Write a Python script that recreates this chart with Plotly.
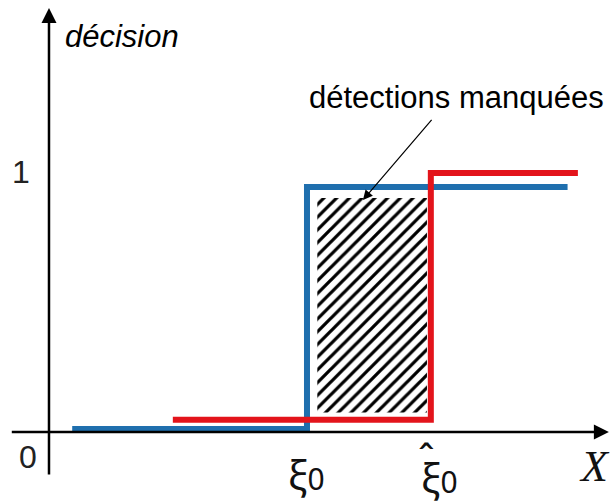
import plotly.graph_objects as go

# decision curves (x in arbitrary units, y = decision value)
xi0 = 10.0
xi0_hat = 14.8

blue_x = [0.9, xi0, 20.1]
blue_y = [0.012, 1.0, 1.0]

red_x = [4.8, xi0_hat, 20.5]
red_y = [0.05, 1.057, 1.057]

# missed detections region
miss_x = [10.4, 14.65, 14.65, 10.4, 10.4]
miss_y = [0.08, 0.08, 0.955, 0.955, 0.08]

# axes extent
x_axis = [-1.5, 21.7]
y_axis = [-0.18, 1.73]

BLUE = "#1f6fae"
RED = "#e3141b"
SANS = "Liberation Sans, Arial, sans-serif"
MATH = "Noto Sans, DejaVu Sans, sans-serif"

fig = go.Figure()

fig.add_trace(go.Scatter(x=miss_x, y=miss_y, mode="lines", fill="toself",
                         line=dict(width=0, color="black"),
                         fillcolor="black",
                         fillpattern=dict(shape="/", size=9, solidity=0.36,
                                          fgcolor="black", bgcolor="white",
                                          fgopacity=1)))
fig.add_trace(go.Scatter(x=blue_x, y=blue_y, mode="lines", line_shape="hv",
                         line=dict(color=BLUE, width=6)))
fig.add_trace(go.Scatter(x=red_x, y=red_y, mode="lines", line_shape="hv",
                         line=dict(color=RED, width=6)))

# axes with arrows
fig.add_annotation(x=x_axis[1], y=0, ax=x_axis[0], ay=0, xref="x", yref="y",
                   axref="x", ayref="y", text="", showarrow=True,
                   arrowhead=2, arrowsize=1.2, arrowwidth=2.5, arrowcolor="black")
fig.add_annotation(x=0, y=y_axis[1], ax=0, ay=y_axis[0], xref="x", yref="y",
                   axref="x", ayref="y", text="", showarrow=True,
                   arrowhead=2, arrowsize=1.2, arrowwidth=2.5, arrowcolor="black")

# pointer to hatched area
fig.add_annotation(x=12.17, y=0.947, ax=14.88, ay=1.28, xref="x", yref="y",
                   axref="x", ayref="y", text="", showarrow=True,
                   arrowhead=2, arrowsize=1.6, arrowwidth=1.2, arrowcolor="black")

fig.add_annotation(x=15.78, y=1.367, text="détections manquées", showarrow=False,
                   font=dict(family=SANS, size=31, color="black"))
fig.add_annotation(x=0.55, y=1.615, text="<i>décision</i>", showarrow=False,
                   xanchor="left", font=dict(family=SANS, size=31, color="black"))
fig.add_annotation(x=-1.09, y=1.06, text="1", showarrow=False,
                   font=dict(family=SANS, size=32, color="#222"))
fig.add_annotation(x=-0.8, y=-0.1, text="0", showarrow=False,
                   font=dict(family=SANS, size=32, color="#222"))
fig.add_annotation(x=xi0, y=-0.175,
                   text="<span style='font-size:40px'>ξ</span>0",
                   showarrow=False, font=dict(family=MATH, size=30, color="#111"))
fig.add_annotation(x=xi0_hat + 0.35, y=-0.185,
                   text="<span style='font-size:40px'>ξ</span>0",
                   showarrow=False, font=dict(family=MATH, size=30, color="#111"))
fig.add_annotation(x=xi0_hat - 0.15, y=-0.105, text="ˆ", showarrow=False,
                   font=dict(family=MATH, size=40, color="#111"))
fig.add_annotation(x=21.15, y=-0.14, text="<i>X</i>", showarrow=False,
                   font=dict(family="Liberation Serif, serif", size=44, color="#111"))

fig.update_layout(width=616, height=502, margin=dict(l=0, r=0, t=0, b=0),
                  showlegend=False, plot_bgcolor="white", paper_bgcolor="white",
                  xaxis=dict(range=[-1.899, 21.977], visible=False, fixedrange=True),
                  yaxis=dict(range=[-0.2857, 1.763], visible=False, fixedrange=True))

fig.write_html("out.html", config={"displayModeBar": False},
               post_script="document.body.style.margin='0';")
